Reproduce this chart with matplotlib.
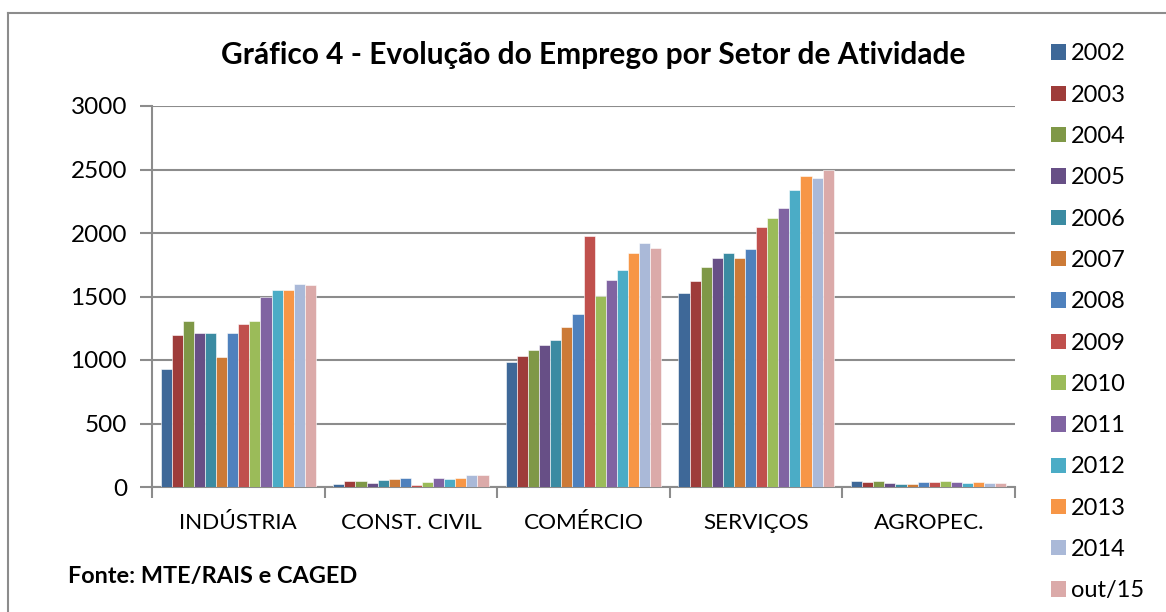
import matplotlib
matplotlib.use("Agg")
import matplotlib.pyplot as plt
import numpy as np
from matplotlib.lines import Line2D
from matplotlib.patches import Patch

categories = ["INDÚSTRIA", "CONST. CIVIL", "COMÉRCIO", "SERVIÇOS", "AGROPEC."]
series_labels = ["2002", "2003", "2004", "2005", "2006", "2007", "2008",
                 "2009", "2010", "2011", "2012", "2013", "2014", "out/15"]
industria = [932, 1200, 1305, 1210, 1215, 1025, 1215, 1284, 1310, 1500, 1552, 1555, 1602, 1594]
const_civil = [25, 48, 48, 32, 56, 65, 74, 16, 40, 74, 65, 74, 97, 97]
comercio = [981, 1031, 1081, 1120, 1160, 1257, 1360, 1978, 1504, 1628, 1712, 1846, 1920, 1880]
servicos = [1528, 1623, 1731, 1802, 1844, 1804, 1873, 2044, 2117, 2199, 2341, 2451, 2430, 2499]
agropec = [45, 42, 50, 29, 24, 24, 40, 42, 45, 42, 34, 40, 34, 32]
yticks = [0, 500, 1000, 1500, 2000, 2500, 3000]

colors = ["#3E6898", "#9E3C3A", "#7F9847", "#674F86", "#3B8BA2", "#CC7A37",
          "#4F81BD", "#C0504D", "#9BBB59", "#8064A2", "#4BACC6", "#F79646",
          "#AAB9D8", "#DBAAA9"]

data = np.array([industria, const_civil, comercio, servicos, agropec])

W, H = 1166, 612
fig = plt.figure(figsize=(W / 100, H / 100), dpi=100)
fig.patch.set_facecolor("white")

ax_left, ax_right, ax_top, ax_bottom = 152, 1015, 106, 487
ax = fig.add_axes([ax_left / W, 1 - ax_bottom / H, (ax_right - ax_left) / W, (ax_bottom - ax_top) / H])

n_cat, n_ser = data.shape
group_w = 0.9
bw = group_w / n_ser
x = np.arange(n_cat)
for j in range(n_ser):
    ax.bar(x - group_w / 2 + bw * (j + 0.5), data[:, j], width=bw, color=colors[j],
           edgecolor="white", linewidth=0.4, zorder=3)

ax.set_xlim(-0.5, n_cat - 0.5)
ax.set_ylim(0, 3000)
ax.set_yticks(yticks)
ax.set_yticklabels([str(v) for v in yticks], fontsize=17.5, family="Lato")
ax.yaxis.grid(True, color="#8C8C8C", linewidth=1.5, zorder=0)
ax.set_axisbelow(True)
for s in ["top", "right"]:
    ax.spines[s].set_visible(False)
for s in ["left", "bottom"]:
    ax.spines[s].set_color("#8C8C8C")
    ax.spines[s].set_linewidth(1.5)
ax.tick_params(axis="y", length=9, width=1.5, color="#8C8C8C", pad=9, labelcolor="black")
ax.set_xticks(np.arange(-0.5, n_cat, 1.0))
ax.set_xticklabels([])
ax.tick_params(axis="x", length=8, width=1.5, color="#8C8C8C")
ax.set_xticks(x, minor=True)
ax.set_xticklabels(categories, minor=True, fontsize=16.2, family="Lato")
ax.tick_params(axis="x", which="minor", length=0, pad=19)

fig.text(593 / W, 1 - 55 / H, "Gráfico 4 - Evolução do Emprego por Setor de Atividade",
         ha="center", va="center", fontsize=21.5, fontweight="bold", family="Lato")
fig.text(68 / W, 1 - 577 / H, "Fonte: MTE/RAIS e CAGED", ha="left", va="center",
         fontsize=16.9, fontweight="bold", family="Lato")

handles = [Patch(facecolor=c, edgecolor="none") for c in colors]
leg = fig.legend(handles, series_labels, loc="upper left", bbox_to_anchor=(1042 / W, 1 - 34 / H),
                 frameon=False, prop={"family": "Lato", "size": 17}, handlelength=0.62,
                 handleheight=0.62, handletextpad=0.22, labelspacing=0.86, borderaxespad=0)

# outer chart border
fig.add_artist(Line2D([8 / W, 1], [1 - 13 / H, 1 - 13 / H], color="#8C8C8C", linewidth=1.5,
                      transform=fig.transFigure))
fig.add_artist(Line2D([8 / W, 8 / W], [0, 1 - 13 / H], color="#8C8C8C", linewidth=1.5,
                      transform=fig.transFigure))

fig.savefig("out.png", dpi=100, facecolor="white")
